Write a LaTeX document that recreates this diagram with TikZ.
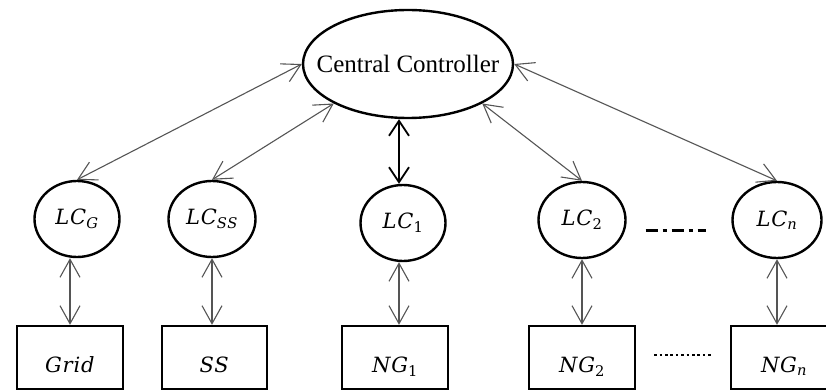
\documentclass[tikz,border=0pt]{standalone}
\usepackage{fontspec}
\setmainfont{Liberation Serif}
\newfontfamily\labelfont[LetterSpace=4]{DejaVu Serif}
\usetikzlibrary{arrows.meta,shapes.geometric,calc}
\definecolor{linkgray}{HTML}{555555}
% controller and unit names
\newcommand{\lcname}[1]{{\labelfont\fontsize{21}{24}\selectfont\itshape LC\textsubscript{#1}}}
\newcommand{\unitname}[2]{\raisebox{-15pt}[0pt][0pt]{\labelfont\fontsize{21}{24}\selectfont\itshape #1\textsubscript{#2}}}
\begin{document}
\begin{tikzpicture}[x=1pt,y=-1pt,
  every node/.style={inner sep=0pt},
  ctrl/.style={ellipse,draw,line width=2.4pt,minimum width=85pt,minimum height=76pt},
  unitbox/.style={rectangle,draw,line width=2.4pt,minimum width=106pt,minimum height=63pt},
  barb/.tip={Straight Barb[length=18pt,width=20pt]},
  link/.style={draw=linkgray,line width=1.1pt,barb-barb},
  mainlink/.style={draw=black,line width=1.8pt,
    {Straight Barb[length=15pt,width=20pt]}-{Straight Barb[length=15pt,width=20pt]}}]
\useasboundingbox (0,0) rectangle (826,390);
\clip (0,0) rectangle (826,390);

% supervisory level
\node[ctrl,minimum width=210pt,minimum height=108pt,font=\fontsize{25}{30}\selectfont]
  (cc) at (408,64) {\makebox[0pt]{Central Controller}};

% local controllers
\node[ctrl] (lcG) at (77,219) {\lcname{G}};
\node[ctrl,minimum width=87pt] (lcSS) at (212,219) {\lcname{SS}};
\node[ctrl] (lc1) at (403,223) {\lcname{\upshape 1}};
\node[ctrl,minimum width=87pt] (lc2) at (582,220) {\lcname{\upshape 2}};
\node[ctrl,minimum width=89pt] (lcn) at (777,220) {\lcname{n}};

% controlled units
\node[unitbox] (grid) at (70,357.5) {\unitname{Grid}{}};
\node[unitbox,minimum width=105pt] (ss) at (214.5,357.5) {\unitname{SS}{}};
\node[unitbox] (ng1) at (395,357.5) {\unitname{NG}{\upshape 1}};
\node[unitbox] (ng2) at (582,357.5) {\unitname{NG}{\upshape 2}};
\node[unitbox] (ngn) at (784,357.5) {\unitname{NG}{n}};

% links from the central controller
\draw[link] (cc.west) -- (lcG.north);
\draw[link] (cc.208) -- (lcSS.north);
\draw[link] (cc.332) -- (lc2.north);
\draw[link] (cc.east) -- (lcn.north);
\coordinate (mid1) at ($(lc1.south)!0.5!(ng1.north)$);
\draw[mainlink] (cc.south -| mid1) -- (lc1.north -| mid1);

% links from local controllers to units
\draw[link] (lcG.south -| grid.north) -- (grid.north);
\draw[link] (lcSS.south) -- (lcSS.south |- ss.north);
\draw[link] (lc1.south -| mid1) -- (ng1.north -| mid1);
\draw[link] (lc2.south) -- (lc2.south |- ng2.north);
\draw[link] (lcn.south) -- (lcn.south |- ngn.north);

% ellipsis marks
\draw[line width=3pt,dash pattern=on 12pt off 5pt on 4pt off 5pt,
  shorten <=19pt,shorten >=25pt]
  ([yshift=-10pt]lc2.east) -- ([yshift=-10pt]lcn.west);
\draw[line width=2.6pt,dash pattern=on 2.6pt off 2.8pt,
  shorten <=18pt,shorten >=18pt]
  ([yshift=2.5pt]ng2.east) -- ([yshift=2.5pt]ngn.west);
\end{tikzpicture}
\end{document}
